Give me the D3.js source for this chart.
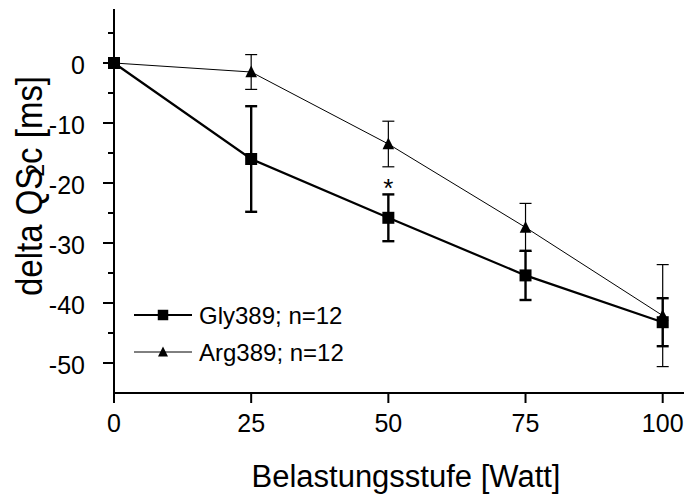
<!DOCTYPE html>
<html><head><meta charset="utf-8">
<script src="https://cdn.jsdelivr.net/npm/d3@7"></script>
<style>
html,body{margin:0;padding:0;background:#fff;}
svg{display:block;}
text{font-family:"Liberation Sans", Arial, sans-serif;fill:#000;}
</style></head>
<body>
<svg id="chart" width="684" height="494"></svg>
<script>
const watts = [0, 25, 50, 75, 100];
const glyMean = [0, -16.0, -25.8, -35.4, -43.2];
const glySE = [0, 8.8, 3.9, 4.1, 4.0];
const argMean = [0, -1.5, -13.5, -27.4, -42.1];
const argSE = [0, 2.9, 3.8, 4.0, 8.5];
const seriesNames = ["Gly389; n=12", "Arg389; n=12"];
const xTicks = [0, 25, 50, 75, 100];
const yMajor = [0, -10, -20, -30, -40, -50];
const yMinor = [5, -5, -15, -25, -35, -45];
const sigX = [50];
const sigLabel = ["*"];
const xTitle = "Belastungsstufe [Watt]";

const svg = d3.select("#chart");
const x = d3.scaleLinear().domain([0, 104]).range([114, 114 + 104 * 5.487]);
const y = d3.scaleLinear().domain([-55, 9]).range([393, 9]);

// triangle symbol (approx as wide as tall)
const tri = { draw(ctx, size) { const r = Math.sqrt(size) / 2; ctx.moveTo(0, -r * 1.1); ctx.lineTo(r, r * 0.9); ctx.lineTo(-r, r * 0.9); ctx.closePath(); } };
const sq = d3.symbolSquare;
const fmt = d => String(d);

// axes
const gx = svg.append("g").attr("transform", `translate(0,${y(-55)})`)
  .call(d3.axisBottom(x).tickValues(xTicks).tickFormat(fmt).tickSize(10).tickPadding(11).tickSizeOuter(0).offset(0));
const gy = svg.append("g").attr("transform", `translate(${x(0)},0)`)
  .call(d3.axisLeft(y).tickValues(yMajor).tickFormat(fmt).tickSize(11).tickPadding(18).tickSizeOuter(0).offset(0));
const gym = svg.append("g").attr("transform", `translate(${x(0)},0)`)
  .call(d3.axisLeft(y).tickValues(yMinor).tickSize(6).tickFormat("").tickSizeOuter(0).offset(0));
[gx, gy, gym].forEach(g => {
  g.selectAll("path.domain").attr("stroke", "#000").attr("stroke-width", 2);
  g.selectAll("line").attr("stroke", "#000").attr("stroke-width", 2);
  g.selectAll("text").attr("font-size", 25).attr("fill", "#000").style("font-family", '"Liberation Sans", Arial, sans-serif');
});
gym.select("path.domain").remove();
gy.selectAll(".tick text").attr("dy", "0.44em");

// series data
const arg = watts.map((w, i) => ({ x: w, m: argMean[i], se: argSE[i] }));
const gly = watts.map((w, i) => ({ x: w, m: glyMean[i], se: glySE[i] }));

function drawSeries(data, lw, ebw, sym, symSize) {
  const g = svg.append("g");
  g.append("path").datum(data)
    .attr("d", d3.line().x(d => x(d.x)).y(d => y(d.m)))
    .attr("fill", "none").attr("stroke", "#000").attr("stroke-width", lw);
  const eb = g.selectAll("g.eb").data(data.filter(d => d.se > 0)).join("g");
  eb.append("line").attr("x1", d => x(d.x)).attr("x2", d => x(d.x))
    .attr("y1", d => y(d.m + d.se)).attr("y2", d => y(d.m - d.se))
    .attr("stroke", "#000").attr("stroke-width", ebw);
  [1, -1].forEach(s => {
    eb.append("line").attr("x1", d => x(d.x) - 6).attr("x2", d => x(d.x) + 6)
      .attr("y1", d => y(d.m + s * d.se)).attr("y2", d => y(d.m + s * d.se))
      .attr("stroke", "#000").attr("stroke-width", ebw);
  });
  g.selectAll("path.pt").data(data).join("path")
    .attr("transform", d => `translate(${x(d.x)},${y(d.m)})`)
    .attr("d", d3.symbol(sym, symSize)).attr("fill", "#000");
}
drawSeries(arg, 1, 1.2, tri, 135);
drawSeries(gly, 2.2, 2.4, sq, 144);

// significance marks
sigX.forEach((sx, i) => {
  const idx = watts.indexOf(sx);
  svg.append("text").attr("x", x(sx)).attr("y", y(glyMean[idx] + glySE[idx]) + 3)
    .attr("text-anchor", "middle").attr("font-size", 26).text(sigLabel[i]);
});

// legend
const legY = [315, 352];
const legSym = [sq, tri];
const legSize = [110, 100];
const legLW = [2.2, 1];
seriesNames.forEach((name, i) => {
  const g = svg.append("g").attr("transform", `translate(0,${legY[i]})`);
  g.append("line").attr("x1", 134).attr("x2", 192).attr("y1", 0).attr("y2", 0)
    .attr("stroke", "#000").attr("stroke-width", legLW[i]);
  g.append("path").attr("transform", "translate(163,0)").attr("d", d3.symbol(legSym[i], legSize[i])).attr("fill", "#000");
  g.append("text").attr("x", 199).attr("y", 9).attr("font-size", 24).text(name);
});

// axis titles
svg.append("text").attr("x", 406).attr("y", 487).attr("text-anchor", "middle").attr("font-size", 31).text(xTitle);
const yt = svg.append("text").attr("transform", "translate(42,186) rotate(-90) scale(1,1.1)")
  .attr("text-anchor", "middle").attr("font-size", 33);
yt.append("tspan").text("delta QS");
yt.append("tspan").attr("font-size", 23).attr("dx", -9).attr("dy", 2).text("2");
yt.append("tspan").attr("dy", -2).text("c [ms]");
</script>
</body></html>
